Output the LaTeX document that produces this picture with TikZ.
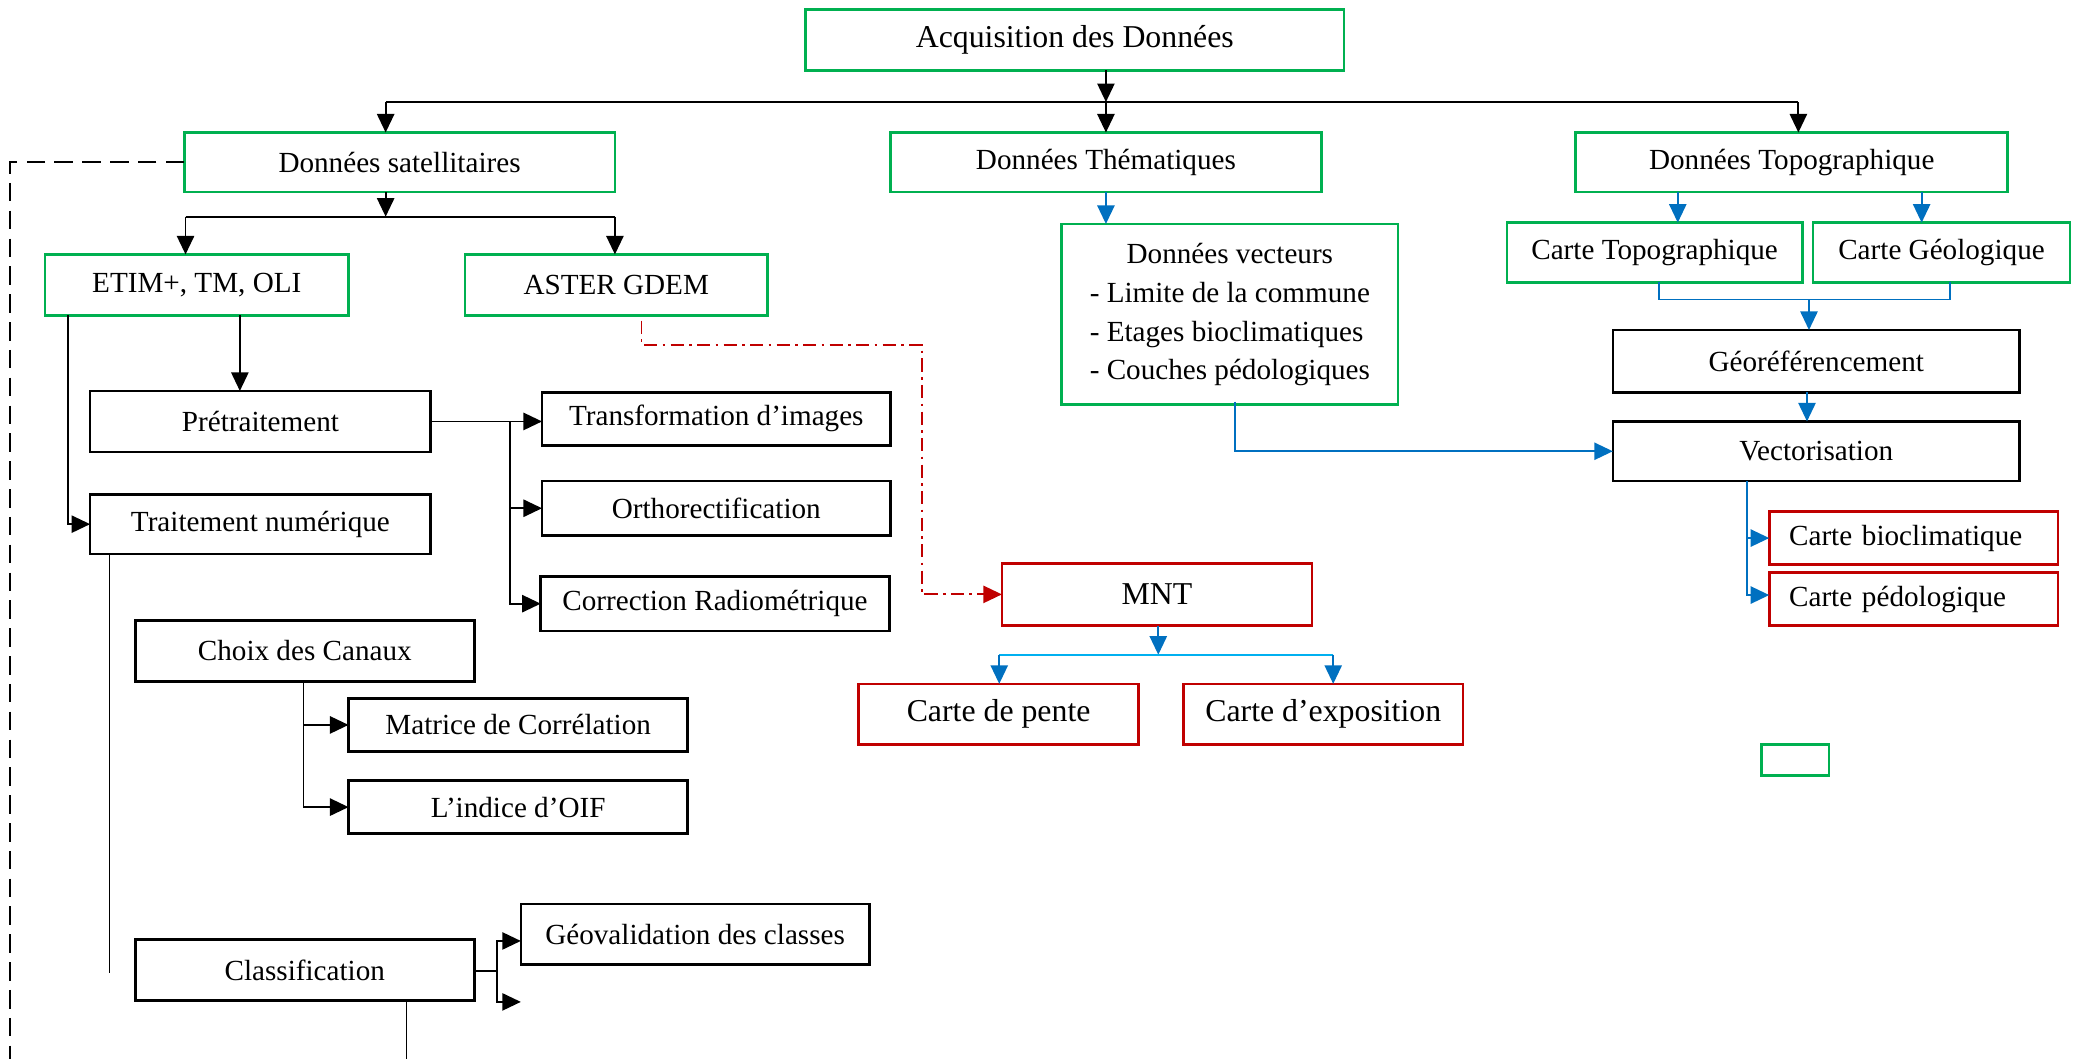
\documentclass[tikz,border=0pt]{standalone}
\usepackage{fontspec}
\setmainfont{Liberation Serif}
\usetikzlibrary{arrows.meta}
\definecolor{cgreen}{RGB}{0,176,80}
\definecolor{cred}{RGB}{192,0,0}
\definecolor{cblue}{RGB}{0,112,192}
\definecolor{clblue}{RGB}{0,176,240}
\newcommand\mkbox[7]{\node[#1, minimum width={(#5-#3)*0.5pt}, minimum height={(#6-#4)*0.5pt}] (#2) at ({(#3+#5)/2},{(#4+#6)/2}) {#7};}
\begin{document}
\begin{tikzpicture}[x=0.5pt,y=-0.5pt,
 box/.style={draw, line width=1pt, inner sep=0pt, outer sep=0pt, font=\fontsize{11}{13}\selectfont},
 gbox/.style={box, draw=cgreen},
 kbox/.style={box, draw=black},
 rbox/.style={box, draw=cred},
 big/.style={font=\fontsize{12}{14}\selectfont},
 arr/.style={line width=0.7pt, -{Triangle[length=7pt,width=6.5pt]}},
 ln/.style={line width=0.7pt},
 barr/.style={arr, draw=cblue},
 bln/.style={ln, draw=cblue}]
\useasboundingbox (0,0) rectangle (1568,799);

% boxes
\mkbox{gbox,big}{acq}{608}{7}{1014}{53}{Acquisition des Données}
\mkbox{gbox}{sat}{139}{100}{464}{145}{Données satellitaires}
\mkbox{gbox}{them}{672}{100}{997}{145}{Données Thématiques}
\mkbox{gbox}{topo}{1189}{100}{1515}{145}{Données Topographique}
\mkbox{gbox}{etim}{34}{192}{263}{238}{ETIM+, TM, OLI}
\mkbox{gbox}{aster}{351}{192}{579}{238}{ASTER GDEM}
\mkbox{kbox}{pre}{68}{295}{325}{341}{Prétraitement}
\mkbox{kbox}{tn}{68}{373}{325}{418}{Traitement numérique}
\mkbox{kbox}{trans}{409}{296}{672}{336}{Transformation d’images}
\mkbox{kbox}{ortho}{409}{363}{672}{404}{Orthorectification}
\mkbox{kbox}{corr}{408}{435}{671}{476}{Correction Radiométrique}
\mkbox{kbox}{choix}{102}{468}{358}{514}{Choix des Canaux}
\mkbox{kbox}{mat}{263}{527}{519}{567}{Matrice de Corrélation}
\mkbox{kbox}{oif}{263}{589}{519}{629}{L’indice d’OIF}
\mkbox{kbox}{clas}{102}{709}{358}{755}{Classification}
\mkbox{kbox}{geov}{393}{682}{656}{728}{Géovalidation des classes}
\mkbox{rbox,big}{mnt}{756}{425}{990}{472}{MNT}
\mkbox{rbox,big}{pente}{648}{516}{859}{562}{Carte de pente}
\mkbox{rbox,big}{expo}{893}{516}{1104}{562}{Carte d’exposition}
\mkbox{gbox,font=\fontsize{11}{14.6}\selectfont}{vect}{801}{169}{1055}{305}{\begin{tabular}{@{}l@{}}\multicolumn{1}{@{}c@{}}{Données vecteurs}\\- Limite de la commune\\- Etages bioclimatiques\\- Couches pédologiques\end{tabular}}
\mkbox{gbox}{ctopo}{1137}{168}{1360}{213}{Carte Topographique}
\mkbox{gbox}{cgeol}{1368}{168}{1562}{213}{Carte Géologique}
\mkbox{kbox}{georef}{1217}{249}{1524}{296}{Géoréférencement}
\mkbox{kbox}{vecto}{1217}{318}{1524}{363}{Vectorisation}
\mkbox{rbox,text width={94pt},align=left}{bioc}{1335}{386}{1553}{426}{Carte bioclimatique}
\mkbox{rbox,text width={94pt},align=left}{pedo}{1335}{432}{1553}{472}{Carte pédologique}
\mkbox{gbox}{small}{1329}{562}{1380}{585}{}

% top level
\coordinate (j1) at (834.5,77);
\coordinate (j1w) at (291,77);
\coordinate (j1e) at (1357,77);
\draw[arr] (acq.south -| j1) -- (j1);
\draw[ln] (j1w) -- (j1e);
\draw[arr] (j1w) -- (j1w |- sat.north);
\draw[arr] (j1) -- (them.north);
\draw[arr] (j1e) -- (j1e |- topo.north);

% satellite
\coordinate (j2) at (291,163.5);
\coordinate (j2w) at (140,163.5);
\coordinate (j2e) at (464,163.5);
\draw[arr] (j2 |- sat.south) -- (j2);
\draw[ln] (j2w) -- (j2e);
\draw[arr] (j2w) -- (j2w |- etim.north);
\draw[arr] (j2e) -- (j2e |- aster.north);

% ETIM
\coordinate (e1) at (51,238);
\coordinate (e2) at (181,238);
\draw[arr] (e1) |- (tn.west);
\draw[arr] (e2) -- (e2 |- pre.north);

% pretraitement
\coordinate (p1) at (385,318);
\draw[arr] (pre.east) -- (pre.east -| trans.west);
\draw[ln] (p1) -- (385,456);
\draw[arr] (p1) |- (ortho.west);
\draw[arr] (p1) |- (corr.west);

% traitement numerique
\coordinate (t1) at (82.6,418);
\coordinate (t2) at (82.6,734);
\draw[ln] (t1) -- (t2);

% choix
\coordinate (c1) at (229,514);
\draw[arr] (c1) |- (mat.west);
\draw[arr] (c1) |- (oif.west);

% classification
\coordinate (k1) at (375,732.5);
\coordinate (k2) at (393,756);
\draw[ln] (clas.east |- k1) -- (k1);
\draw[arr] (k1) |- (geov.west |- 0,710);
\draw[arr] (k1) |- (k2);
\coordinate (k3) at (306.7,799);
\draw[ln] (k3 |- clas.south) -- (k3);

% dashed
\coordinate (d1) at (7.5,799);
\draw[line width=0.7pt, dash pattern=on 7pt off 3.5pt] (sat.west) -| (d1);

% red dash-dot
\coordinate (r1) at (484,242);
\coordinate (r2) at (695.5,260);
\draw[line width=0.7pt, draw=cred, dash pattern=on 5pt off 2pt on 1pt off 2pt, -{Triangle[length=7pt,width=6.5pt]}]
  (r1) |- (r2) |- (mnt.west);

% MNT
\coordinate (m1) at (874,494);
\coordinate (m1w) at (754,494);
\coordinate (m1e) at (1006,494);
\draw[barr] (m1 |- mnt.south) -- (m1);
\draw[ln, draw=clblue] (m1w) -- (m1e);
\draw[barr] (m1w) -- (m1w |- pente.north);
\draw[barr] (m1e) -- (m1e |- expo.north);

% thematiques
\draw[barr] (them.south) -- (them.south |- vect.north);
\coordinate (v1) at (932,303);
\draw[barr] (v1) |- (vecto.west);

% topographique
\coordinate (tp1) at (1266,145);
\coordinate (tp2) at (1450,145);
\draw[barr] (tp1) -- (tp1 |- ctopo.north);
\draw[barr] (tp2) -- (tp2 |- cgeol.north);
\coordinate (g1) at (1252,226);
\coordinate (g2) at (1471.5,226);
\coordinate (g3) at (1365,226);
\draw[bln] (g1 |- ctopo.south) -- (g1) -- (g2) -- (g2 |- cgeol.south);
\draw[barr] (g3) -- (g3 |- georef.north);
\coordinate (g4) at (1363.5,296);
\draw[barr] (g4) -- (g4 |- vecto.north);

% vectorisation
\coordinate (w1) at (1318,363);
\draw[bln] (w1) -- (1318,449);
\draw[barr] (w1) |- (bioc.west);
\draw[barr] (w1) |- (pedo.west |- 0,449);
\end{tikzpicture}
\end{document}
